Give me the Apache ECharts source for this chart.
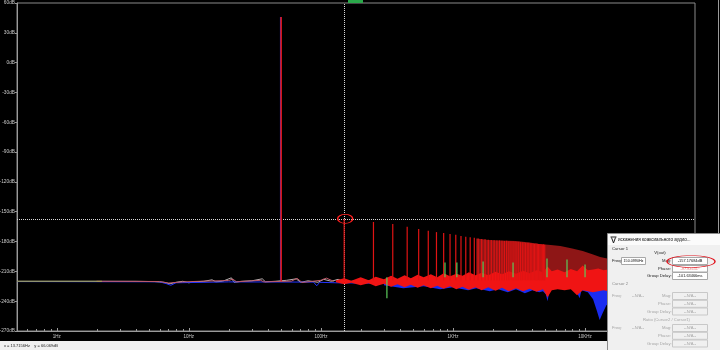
<!DOCTYPE html>
<html><head><meta charset="utf-8">
<script src="https://cdn.jsdelivr.net/npm/echarts@6/dist/echarts.min.js"></script>
<style>html,body{margin:0;padding:0;background:#000;overflow:hidden}#c{width:720px;height:350px}</style>
</head><body><div id="c"></div>
<script>
// ---- axis ranges & tick labels ----
const yMin = -270, yMax = 60, yStep = 30;
const xMin = 0.5, xMax = 68000;
const xTickValues = [1, 10, 100, 1000, 10000];
const xTickLabels = ['1Hz', '10Hz', '100Hz', '1KHz', '10KHz'];

// ---- V(out) fundamental and odd harmonics (Hz, dB) ----
const fundFreq = [50], fundDb = [45.9];
const blueFundFreq = [49.4], blueFundDb = [45.9];
const harmFloor = -219;
const harmFreq = [150,250,350,450,550,650,750,850,950,1050,1150,1250,1350,1450,1550,1650,1750,1850,1950,2050,2150,2250,2350,2450,2550,2650,2750,2850,2950,3050,3150,3250,3350,3450,3550,3650,3750,3850,3950,4050,4150,4250,4350,4450,4550,4650,4750,4850,4950];
const harmDb = [-157.2,-160.3,-162.3,-165.2,-167.3,-169.2,-170.5,-171.3,-172.4,-173.2,-174.3,-175.1,-175.6,-176.3,-176.9,-177.5,-177.8,-178.3,-178.5,-178.7,-179.0,-178.9,-179.2,-179.4,-179.3,-179.6,-179.8,-179.7,-180.0,-180.3,-180.2,-180.6,-180.8,-180.7,-181.1,-181.3,-181.2,-181.6,-181.8,-181.9,-182.1,-182.0,-182.3,-182.5,-182.4,-182.7,-182.9,-182.8,-183.1];

// dense harmonic band envelope (too dense to resolve individually)
const envFreq = [1500,1850,2300,3000,3800,4500,5500,6500,8000,9600,11500,13000,16000,22000,32000,45000,68000];
const envTop  = [-177,-178.4,-179,-179.5,-181,-182.5,-183.5,-184.5,-187,-189.5,-193,-195.5,-198,-202,-206,-209,-212];
const envBottom = -214;

// red noise floor band
const bandFreq = [130,150,170,200,230,260,300,340,380,430,480,540,600,680,760,850,950,1060,1180,1320,1480,1650,1850,2100,2350,2650,3000,3400,3800,4300,4800,5200,5600,6200,7000,7800,8700,9600,10500,11500,12600,13800,15000,18000,24000,32000,45000,68000];
const bandTop  = [-219,-217,-219.5,-216,-219,-215.5,-218,-214.5,-217.5,-214,-217,-213.5,-216,-213,-216,-212,-215,-212.5,-214.5,-211,-214,-211.5,-214,-210.5,-213,-210,-212.5,-209.5,-212,-209,-211,-205,-210,-208,-211,-207.5,-210,-204,-209,-208,-207,-209,-208,-207,-206,-207,-206,-205];
const bandBot  = [-221,-223,-221.5,-224,-222,-225,-222.5,-225.5,-223,-226,-223.5,-226.5,-224,-227,-224.5,-227.5,-225,-228,-225.5,-228.5,-226,-229,-226,-229.5,-226.5,-230,-227,-230,-227.5,-230.5,-228,-236,-229,-228,-229,-228,-234,-229,-230,-231,-230,-229,-230,-231,-231,-232,-232,-232];

// blue trace: floor, and its lower noise band
const blueFreq = [0.5,6,6.8,7.3,8,20,88,93,98,130,300];
const blueDb   = [-220.3,-220.5,-222.5,-224,-221.5,-220.6,-220.8,-224.5,-221,-221.5,-222];
const blueBandFreq = [300,420,600,800,1000,1300,1500,1900,2200,2600,3000,3500,4000,4500,4800,5050,5200,5350,5500,6000,7000,8200,8800,9100,9400,10500,11500,12300,12900,13600,14500,16000,20000,68000];
const blueBandBot  = [-224,-227,-225,-228,-226,-229,-227,-230,-228,-231,-228,-232,-229,-231,-230,-233,-240,-231,-227,-226,-226,-226,-233,-237,-229,-231,-238,-250,-259,-252,-244,-240,-236,-232];
const blueBandTop = -222;

// grey, olive and red floor traces
const greyFreq = [0.5,4,5.5,6.5,7.2,8,9,10,11,13,15,16,18,21,22,25,30,36,38,45,55,65,70,80,95,105,120,135,150,200,300,500,1000,5000,68000];
const greyDb   = [-220,-220,-220.3,-221,-222.5,-221,-220,-221.5,-220.5,-220,-218.5,-220.5,-220,-216.5,-221,-220,-219.5,-217.5,-220.5,-220,-219,-217.5,-221,-219.5,-221,-218,-220,-218,-220.5,-219.5,-220,-219,-220,-220,-220];
const oliveFreq = [0.5, 2.2];
const oliveDb = [-220, -220];
const redFloorFreq = [2,6,7,9,12,20,21.5,23,35,36,37,60,66,72,100,110,125];
const redFloorDb   = [-220,-220.2,-221.8,-220.6,-220,-219.2,-217.8,-220.5,-219,-217,-220.6,-219.8,-217,-221.2,-219,-216.8,-220];

// green trace spikes
const greenBase = -216;
const greenFreq = [316,870,1070,1690,2850,5150,7300,10000];
const greenDb   = [-237,-201,-201,-200,-201,-197,-198,-203];

// cursor 1
const cursorFreq = 150.099, cursorDb = -157.17684;

// ---------------------------------------------------
const FONT = '"Liberation Sans", Arial, sans-serif';
const pairs = (xs, ys) => xs.map((x, i) => [x, ys[i]]);

function polySeries(freqs, tops, bots, color, z) {
  return {
    type: 'custom', coordinateSystem: 'cartesian2d', silent: true, clip: true, z: z,
    data: [[freqs[0], Array.isArray(tops) ? tops[0] : tops]],
    renderItem: function (params, api) {
      const pts = [];
      for (let i = 0; i < freqs.length; i++) pts.push(api.coord([freqs[i], Array.isArray(tops) ? tops[i] : tops]));
      for (let i = freqs.length - 1; i >= 0; i--) pts.push(api.coord([freqs[i], Array.isArray(bots) ? bots[i] : bots]));
      return { type: 'polygon', shape: { points: pts }, style: { fill: color } };
    }
  };
}
function spikeSeries(freqs, tops, base, color, z, width) {
  return {
    type: 'custom', coordinateSystem: 'cartesian2d', silent: true, clip: true, z: z,
    data: pairs(freqs, tops),
    renderItem: function (params, api) {
      const t = api.coord([api.value(0), api.value(1)]);
      const b = api.coord([api.value(0), base]);
      return { type: 'line', shape: { x1: t[0], y1: t[1], x2: b[0], y2: b[1] },
        style: { stroke: color, lineWidth: width || 1.2 } };
    }
  };
}
function lineSeries(data, color, z, width) {
  return { type: 'line', data: data, z: z, symbol: 'none', silent: true, clip: true,
    lineStyle: { color: color, width: width || 1 } };
}

// minor ticks on the log axis
const minorTicks = [];
[0.1, 1, 10, 100, 1000, 10000].forEach(d => [2,3,4,5,6,7,8,9].forEach(m => {
  const v = d * m; if (v > xMin && v < xMax) minorTicks.push([v, yMin]);
}));

// ---- overlay graphics: cursor window, status bar ----
const G = [];
function gRect(x, y, w, h, fill, stroke) {
  G.push({ type: 'rect', z: 100, shape: { x: x, y: y, width: w, height: h }, style: { fill: fill, stroke: stroke || null, lineWidth: 1 } });
}
function gText(x, y, t, size, color, align) {
  const a = align || 'left';
  G.push({ type: 'text', z: 101, x: x, y: y, style: { text: t, fill: color, font: size + 'px ' + FONT,
    align: a, verticalAlign: 'middle', textAlign: a, textVerticalAlign: 'middle' } });
}
const dis = '#a6a6a6';
gRect(0, 341, 607, 9, '#f0f0f0');
gText(4, 345.5, 'x = 13.7156Hz    y = 66.069dB', 4, '#222');
gRect(348, 0, 15, 3, '#2aa84a');
G.push({ type: 'line', z: 100, shape: { x1: 718.5, y1: 0, x2: 718.5, y2: 233 }, style: { stroke: '#9a9a9a', lineWidth: 1 } });
gRect(607.5, 233.5, 113, 117, '#f0f0f0', '#8c8c8c');
gRect(608, 234, 112, 11, '#fbfbfb');
G.push({ type: 'polyline', z: 102, shape: { points: [[610.5, 237], [616.5, 237]] }, style: { stroke: '#222', lineWidth: 1 } });
G.push({ type: 'polyline', z: 102, shape: { points: [[611.5, 237.5], [613.5, 243], [615.5, 237.5]] }, style: { stroke: '#222', lineWidth: 1, fill: null } });
gText(618, 240, 'искажения коаксиального аудио...', 4.6, '#111');
gText(612, 248.5, 'Cursor 1', 4.2, '#222');
gText(660, 253, 'V(out)', 4.2, '#222', 'center');
gText(612, 261, 'Freq:', 4.2, '#222');
gRect(621.5, 257.5, 24, 7, '#ffffff', '#a8a8a8');
gText(633.5, 261, '150.0990Hz', 3.7, '#111', 'center');
gText(662, 261, 'Mag:', 4.2, '#222');
gRect(672.5, 257.5, 35, 7, '#ffffff', '#a8a8a8');
gText(690, 261, '-157.17684dB', 3.9, '#111', 'center');
G.push({ type: 'circle', z: 103, x: 691, y: 261.5, scaleY: 0.25, shape: { cx: 0, cy: 0, r: 24 },
  style: { fill: null, stroke: '#e0141e', lineWidth: 1.5, strokeNoScale: true } });
gText(658, 268.5, 'Phase:', 4.2, '#222');
gRect(672.5, 265.5, 35, 6.5, '#ffffff', '#a8a8a8');
gText(690, 268.8, '-97.83651°', 3.9, '#e08080', 'center');
gText(647, 276, 'Group Delay:', 4.2, '#222');
gRect(672.5, 272.5, 35, 7, '#ffffff', '#a8a8a8');
gText(690, 276, '-101.63466ms', 3.9, '#111', 'center');
gText(612, 284, 'Cursor 2', 4.2, '#8a8a8a');
[[296, 292.5, 'Freq:'], [328, 324.5, 'Freq:']].forEach(r => {
  gText(612, r[0], r[2], 4.2, dis); gText(632, r[0], '--N/A--', 4, dis);
  gText(662, r[0], 'Mag:', 4.2, dis); gRect(672.5, r[1], 35, 7, '#f0f0f0', '#c8c8c8'); gText(690, r[0], '--N/A--', 4, dis, 'center');
  gText(658, r[0] + 7.8, 'Phase:', 4.2, dis); gRect(672.5, r[1] + 7.8, 35, 7, '#f0f0f0', '#c8c8c8'); gText(690, r[0] + 7.8, '--N/A--', 4, dis, 'center');
  gText(647, r[0] + 15.5, 'Group Delay:', 4.2, dis); gRect(672.5, r[1] + 15.5, 35, 7, '#f0f0f0', '#c8c8c8'); gText(690, r[0] + 15.5, '--N/A--', 4, dis, 'center');
});
gText(643, 320, 'Ratio (Cursor2 / Cursor1)', 4.2, dis);

const chart = echarts.init(document.getElementById('c'), null, { renderer: 'canvas' });
chart.setOption({
  animation: false,
  backgroundColor: '#000',
  grid: { left: 17, right: 25, top: 3, bottom: 19, show: true, borderColor: '#8a8a8a', borderWidth: 1,
    backgroundColor: '#000', containLabel: false, outerBoundsMode: 'none' },
  xAxis: {
    type: 'log', logBase: 10, min: xMin, max: xMax,
    axisLine: { show: true, onZero: false, lineStyle: { color: '#9a9a9a', width: 1 } },
    axisTick: { show: true, inside: true, length: 3, lineStyle: { color: '#9a9a9a' } },
    splitLine: { show: false }, minorTick: { show: false }, minorSplitLine: { show: false },
    axisLabel: { color: '#c8c8c8', fontSize: 4.5, fontFamily: FONT, margin: 3,
      showMinLabel: false, showMaxLabel: false, hideOverlap: false,
      formatter: function (v) {
        for (let i = 0; i < xTickValues.length; i++)
          if (Math.abs(Math.log10(v) - Math.log10(xTickValues[i])) < 1e-6) return xTickLabels[i];
        return '';
      } }
  },
  yAxis: {
    type: 'value', min: yMin, max: yMax, interval: yStep,
    axisLine: { show: true, onZero: false, lineStyle: { color: '#9a9a9a', width: 1 } },
    axisTick: { show: true, length: 2, lineStyle: { color: '#9a9a9a' } },
    splitLine: { show: false },
    axisLabel: { color: '#c8c8c8', fontSize: 4.8, fontFamily: FONT, margin: 2, formatter: v => v + 'dB' }
  },
  graphic: { elements: G },
  series: [
    polySeries(envFreq, envTop, envBottom, '#8e1616', 1),
    polySeries(blueBandFreq, blueBandTop, blueBandBot, '#1a2cf0', 2),
    lineSeries(pairs(greyFreq, greyDb), '#b8b0b0', 3),
    lineSeries(pairs(blueFreq, blueDb), '#2233ff', 3),
    spikeSeries(blueFundFreq, blueFundDb, -220, '#2a3cff', 3, 1),
    lineSeries(pairs(redFloorFreq, redFloorDb), '#c05a6a', 4),
    lineSeries(pairs(oliveFreq, oliveDb), '#a8a850', 4),
    polySeries(bandFreq, bandTop, bandBot, '#f01414', 5),
    spikeSeries(fundFreq, fundDb, -220, '#e01818', 6, 1.6),
    Object.assign(spikeSeries(harmFreq, harmDb, harmFloor, '#e01414', 6, 1.2), {
      markLine: { silent: true, symbol: ['none', 'none'], label: { show: false }, animation: false,
        lineStyle: { type: 'dotted', color: '#d8d8d8', width: 1 },
        data: [{ xAxis: cursorFreq }, { yAxis: cursorDb }] }
    }),
    spikeSeries(greenFreq, greenDb, greenBase, '#5ccc5c', 7, 1.2),
    {
      type: 'custom', coordinateSystem: 'cartesian2d', silent: true, z: 8, data: minorTicks,
      renderItem: function (params, api) {
        const p = api.coord([api.value(0), api.value(1)]);
        return { type: 'line', shape: { x1: Math.round(p[0]) + 0.5, y1: p[1], x2: Math.round(p[0]) + 0.5, y2: p[1] - 2 },
          style: { stroke: '#9a9a9a', lineWidth: 1 } };
      }
    },
    {
      type: 'custom', coordinateSystem: 'cartesian2d', silent: true, z: 9, data: [[cursorFreq, cursorDb]],
      renderItem: function (params, api) {
        const p = api.coord([api.value(0), api.value(1)]);
        return { type: 'circle', x: p[0] + 1, y: p[1], scaleY: 0.6, shape: { cx: 0, cy: 0, r: 7.5 },
          style: { fill: null, stroke: '#ff2020', lineWidth: 1.5, strokeNoScale: true } };
      }
    }
  ]
});
</script></body></html>
